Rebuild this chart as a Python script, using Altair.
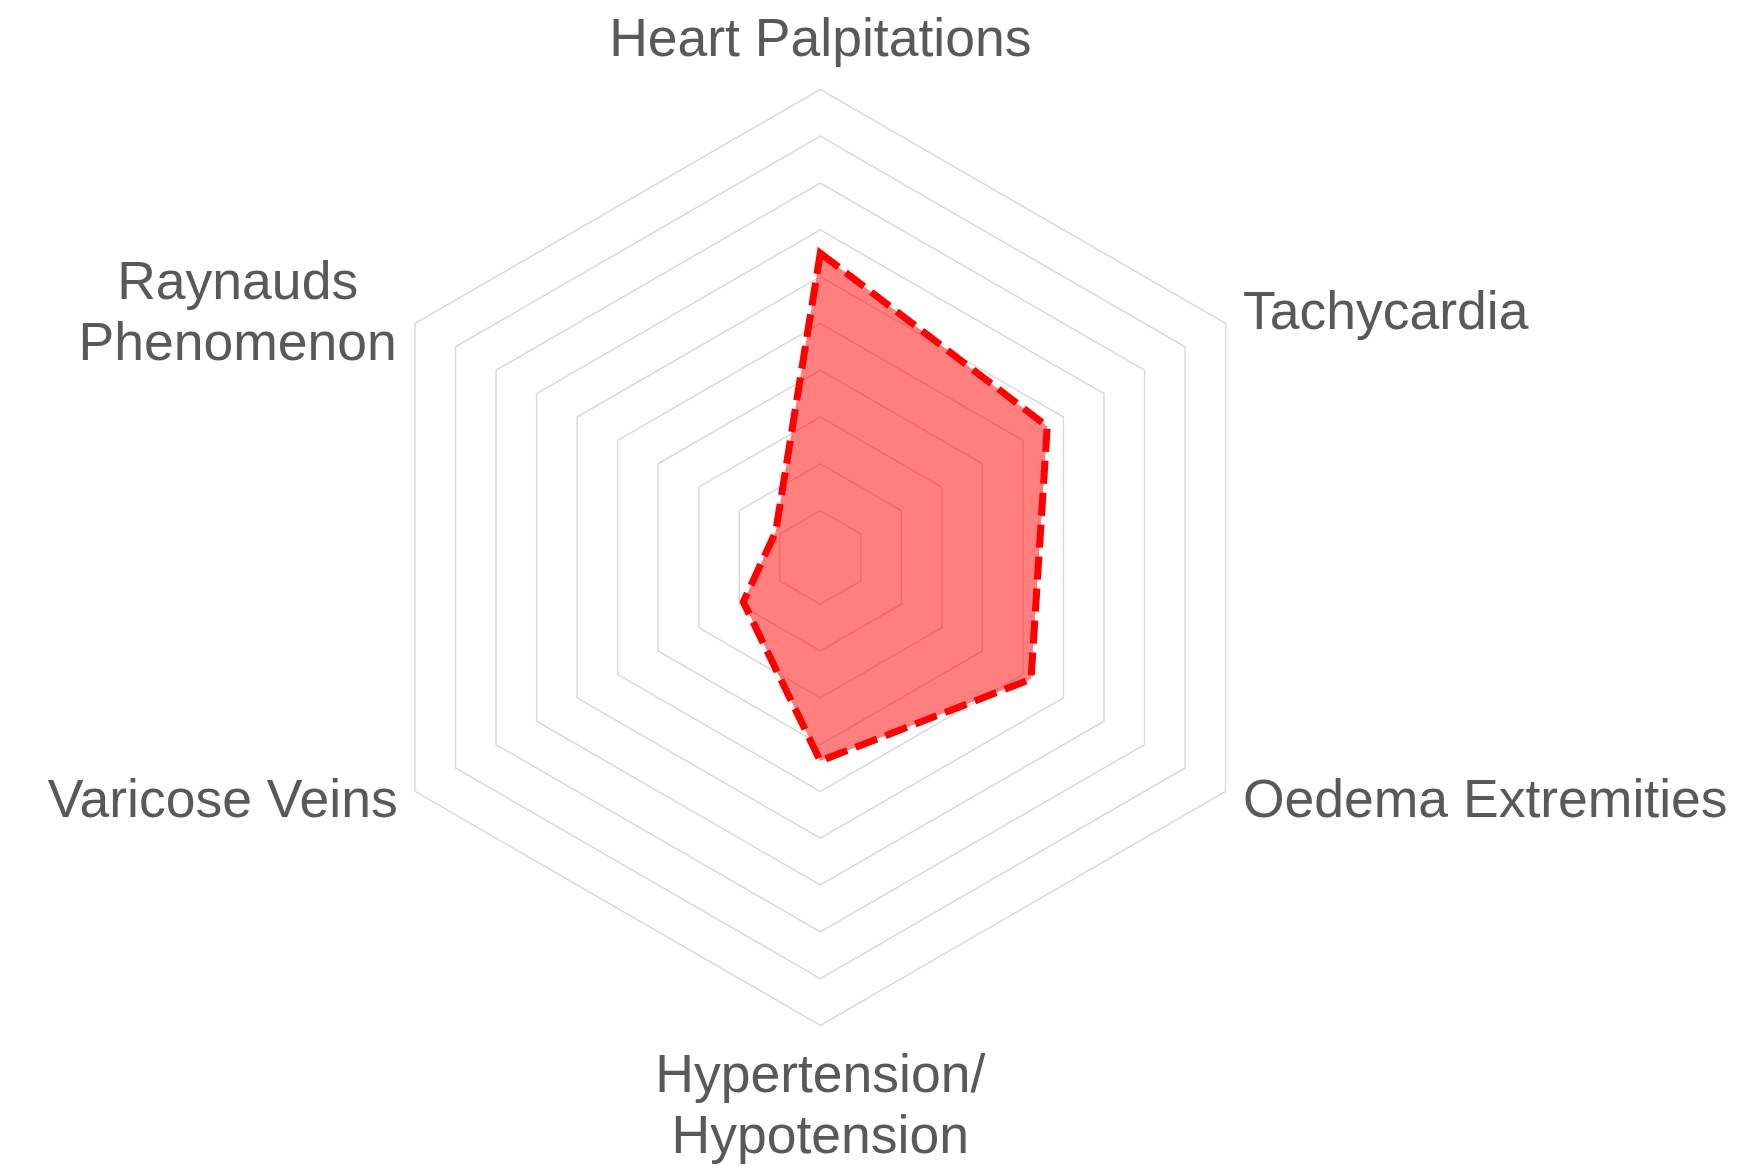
import altair as alt
import pandas as pd

# ---- data ----
categories = [
    "Heart Palpitations",
    "Tachycardia",
    "Oedema Extremities",
    "Hypertension/\nHypotension",
    "Varicose Veins",
    "Raynauds\nPhenomenon",
]
values = [6.5, 5.6, 5.2, 4.35, 1.9, 1.1]
ring_levels = [1, 2, 3, 4, 5, 6, 7, 8, 9, 10]
max_value = 10

# ---- tables built from the arrays ----
idx = list(range(len(categories)))
n = len(categories)
series = pd.DataFrame({"category": categories, "value": values, "idx": idx})
grid = pd.DataFrame([{"level": lv, "idx": i} for lv in ring_levels for i in idx])
labels = pd.DataFrame({"category": categories, "idx": idx})

# ---- layout / style ----
W, H = 1728, 1156
px_per_unit = 46.8
cx_page, cy_page = 820.3, 557.4
xmin = -(cx_page - 8) / px_per_unit
xmax = xmin + W / px_per_unit
ymax = (cy_page - 8) / px_per_unit
ymin = ymax - H / px_per_unit
label_r = max_value + 20 / px_per_unit

font = "Liberation Sans"
fsize = 53.5
lh = 61
tcolor = "#595959"

xs = alt.Scale(domain=[xmin, xmax], nice=False, zero=False)
ys = alt.Scale(domain=[ymin, ymax], nice=False, zero=False)

ang = f"datum.idx * 2 * PI / {n}"

grid_layer = (
    alt.Chart(grid)
    .transform_calculate(gx=f"datum.level * sin({ang})", gy=f"datum.level * cos({ang})")
    .mark_line(interpolate="linear-closed", stroke="#d9d9d9", strokeWidth=1.5)
    .encode(
        x=alt.X("gx:Q", scale=xs, axis=None),
        y=alt.Y("gy:Q", scale=ys, axis=None),
        detail="level:N",
        order="idx:Q",
    )
)

poly_layer = (
    alt.Chart(series)
    .transform_calculate(px=f"datum.value * sin({ang})", py=f"datum.value * cos({ang})")
    .mark_line(
        interpolate="linear-closed",
        stroke="#ff0000",
        strokeWidth=7,
        strokeDash=[23, 9],
        fill="#ff0000",
        fillOpacity=0.5,
        strokeJoin="miter",
    )
    .encode(
        x=alt.X("px:Q", scale=xs, axis=None),
        y=alt.Y("py:Q", scale=ys, axis=None),
        order="idx:Q",
    )
)


def label_layer(cond, align, baseline, dx=0, dy=0):
    return (
        alt.Chart(labels)
        .transform_filter(cond)
        .transform_calculate(lx=f"{label_r} * sin({ang})", ly=f"{label_r} * cos({ang})")
        .mark_text(
            align=align,
            baseline=baseline,
            dx=dx,
            dy=dy,
            font=font,
            fontSize=fsize,
            color=tcolor,
            lineBreak="\n",
            lineHeight=lh,
        )
        .encode(
            x=alt.X("lx:Q", scale=xs, axis=None),
            y=alt.Y("ly:Q", scale=ys, axis=None),
            text="category:N",
        )
    )


lab_top = label_layer("datum.idx == 0", "center", "bottom", dy=-2)
lab_right = label_layer("datum.idx == 1 || datum.idx == 2", "left", "middle")
lab_bottom = label_layer("datum.idx == 3", "center", "top", dy=5)
lab_left = label_layer("datum.idx == 4", "right", "middle")
lab_left2 = label_layer("datum.idx == 5", "center", "middle", dx=-160, dy=-30)

chart = (
    alt.layer(grid_layer, poly_layer, lab_top, lab_right, lab_bottom, lab_left, lab_left2)
    .properties(width=W, height=H, padding=0, background="white")
    .configure_view(strokeWidth=0)
)

chart.save("out.html", embed_options={"renderer": "svg", "actions": False})
